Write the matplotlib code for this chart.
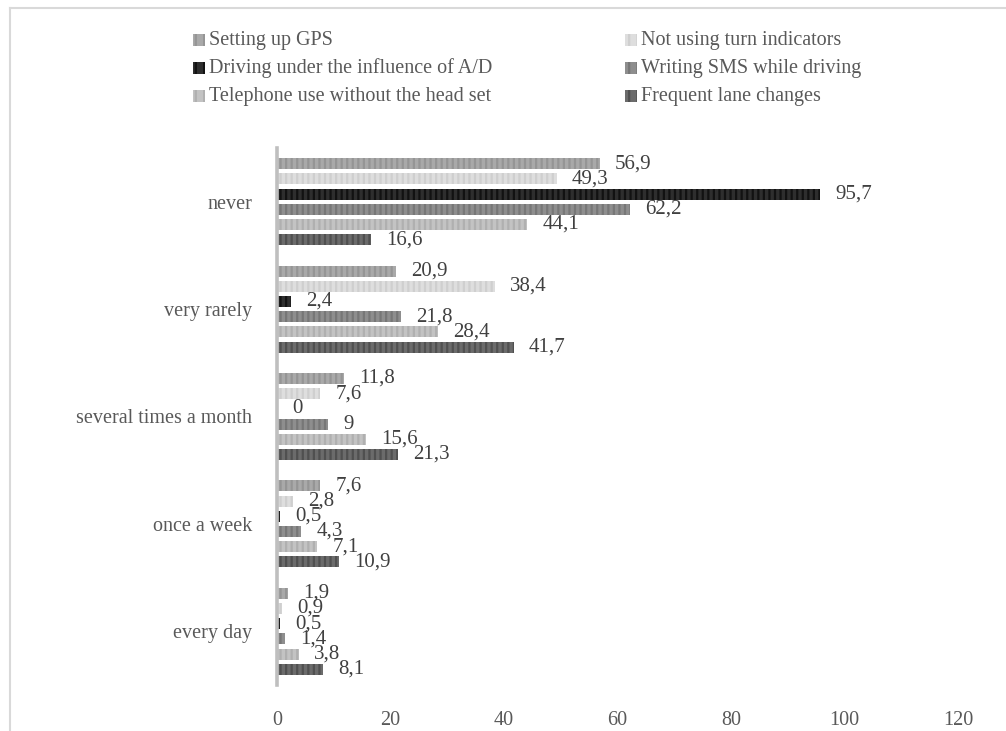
import matplotlib
matplotlib.use("Agg")
import matplotlib.pyplot as plt
from matplotlib.patches import Rectangle
from matplotlib.lines import Line2D
import numpy as np

# ---- data ----
categories = ["never", "very rarely", "several times a month", "once a week", "every day"]
series_names = [
    "Setting up GPS",
    "Not using turn indicators",
    "Driving under the influence of A/D",
    "Writing SMS while driving",
    "Telephone use without the head set",
    "Frequent lane changes",
]
gps = [56.9, 20.9, 11.8, 7.6, 1.9]
turn_indicators = [49.3, 38.4, 7.6, 2.8, 0.9]
alcohol_drugs = [95.7, 2.4, 0.0, 0.5, 0.5]
sms = [62.2, 21.8, 9.0, 4.3, 1.4]
phone_no_headset = [44.1, 28.4, 15.6, 7.1, 3.8]
lane_changes = [16.6, 41.7, 21.3, 10.9, 8.1]
series_values = [gps, turn_indicators, alcohol_drugs, sms, phone_no_headset, lane_changes]
x_ticks = [0, 20, 40, 60, 80, 100, 120]

# ---- style ----
face_colors = ["#a9a9a9", "#dedede", "#2e2e2e", "#8e8e8e", "#c3c3c3", "#6b6b6b"]
stripe_colors = ["#959595", "#cfcfcf", "#121212", "#777777", "#b0b0b0", "#505050"]

plt.rcParams["font.family"] = ["Liberation Serif", "DejaVu Serif"]
plt.rcParams["hatch.linewidth"] = 1.6

W, H = 1006, 731
fig = plt.figure(figsize=(W / 100, H / 100), dpi=100)

# outer frame (top and left edges visible)
fig.add_artist(Line2D([10 / W, 1.0], [1 - 8 / H, 1 - 8 / H], color="#d9d9d9", lw=1.5,
                      transform=fig.transFigure))
fig.add_artist(Line2D([10 / W, 10 / W], [0, 1 - 8 / H], color="#d9d9d9", lw=1.5,
                      transform=fig.transFigure))

ax = fig.add_axes([277 / W, 1 - 685 / H, (958 - 277) / W, (685 - 148) / H])

n_series = len(series_values)
slot = 0.1415
bar_h = 0.102
y_base = np.arange(len(categories))

for i, (vals, fc, sc) in enumerate(zip(series_values, face_colors, stripe_colors)):
    offs = (i - (n_series - 1) / 2) * slot
    with plt.rc_context({"hatch.color": sc}):
        bars = ax.barh(y_base + offs, vals, height=bar_h, color=fc, hatch="|||",
                       linewidth=0)
    for b, v in zip(bars, vals):
        label = f"{v:g}".replace(".", ",")
        ax.annotate(label, xy=(v, b.get_y() + b.get_height() / 2),
                    xytext=(11, 0), textcoords="offset points",
                    ha="left", va="center", fontsize=15, color="#404040")

ax.set_xlim(0, 120)
ax.set_ylim(len(categories) - 0.5, -0.5)
ax.set_xticks(x_ticks)
ax.set_xticklabels([str(t) for t in x_ticks])
ax.set_yticks(y_base)
ax.set_yticklabels(categories)
ax.tick_params(axis="both", length=0, labelsize=14.5, colors="#595959")
ax.tick_params(axis="x", pad=19)
ax.tick_params(axis="y", pad=18)

for side in ["top", "right", "bottom"]:
    ax.spines[side].set_visible(False)
ax.spines["left"].set_color("#bfbfbf")
ax.spines["left"].set_linewidth(2.6)
ax.set_facecolor("none")

# legend: two columns, filled row by row
col_x = [193, 625]
row_y = [40, 68, 96]
for k, (name, fc, sc) in enumerate(zip(series_names, face_colors, stripe_colors)):
    cx = col_x[k % 2]
    cy = row_y[k // 2]
    with plt.rc_context({"hatch.color": sc}):
        fig.add_artist(Rectangle((cx / W, 1 - (cy + 6) / H), 12 / W, 12 / H,
                                 transform=fig.transFigure, facecolor=fc,
                                 hatch="||", linewidth=0))
    fig.text((cx + 16) / W, 1 - cy / H, name, ha="left", va="center",
             fontsize=14.5, color="#595959")

fig.savefig("out.png", dpi=100)
